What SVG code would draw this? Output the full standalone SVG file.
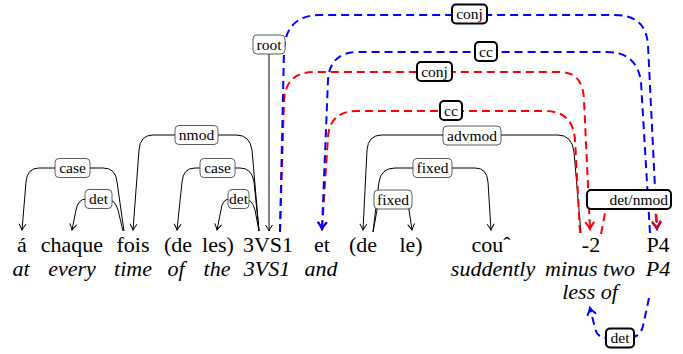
<svg xmlns="http://www.w3.org/2000/svg" width="683" height="354" viewBox="0 0 683 354">
<style>
text{font-family:"Liberation Serif","Times New Roman",serif;fill:#000;text-anchor:middle}
.w{font-size:22px}
.g{font-size:22px;font-style:italic}
.lt{font-size:15.5px}
.k{fill:none;stroke:#000;stroke-width:1}
.b{fill:none;stroke:#0000ff;stroke-width:2;stroke-dasharray:8 5}
.r{fill:none;stroke:#ff0000;stroke-width:2;stroke-dasharray:8 5}
.lb{fill:#fff;stroke:#333;stroke-width:0.8}
.lbd{fill:#fff;stroke:#000;stroke-width:2}
</style>
<defs>
<marker id="ak" markerUnits="userSpaceOnUse" viewBox="-8 -6 10 12" markerWidth="10" markerHeight="12" refX="0" refY="0" orient="auto">
<path d="M-6,-3.5 Q-2,-0.8 0,0 Q-2,0.8 -6,3.5" fill="none" stroke="#000" stroke-width="1"/>
</marker>
<marker id="ab" markerUnits="userSpaceOnUse" viewBox="-9 -7 11 14" markerWidth="11" markerHeight="14" refX="0" refY="0" orient="auto">
<path d="M-7,-4.5 Q-2.5,-1 0,0 Q-2.5,1 -7,4.5" fill="none" stroke="#0000ff" stroke-width="2"/>
</marker>
<marker id="ar" markerUnits="userSpaceOnUse" viewBox="-9 -7 11 14" markerWidth="11" markerHeight="14" refX="0" refY="0" orient="auto">
<path d="M-7,-4.5 Q-2.5,-1 0,0 Q-2.5,1 -7,4.5" fill="none" stroke="#ff0000" stroke-width="2"/>
</marker>
</defs>
<rect width="683" height="354" fill="#fff"/>
<g id="connectors">
<path class="k" marker-end="url(#ak)" d="M124,231 L117,182 Q116,168 103,168 L39,168 Q27,168 26,182 L22,230"/>
<path class="k" marker-end="url(#ak)" d="M123,231 L118,210 Q115,199 106,199 L86,199 Q78,199 76,210 L72,230"/>
<path class="k" marker-end="url(#ak)" d="M259,231 L252,150 Q250,135 236,135 L153,135 Q140,135 139,150 L133,230"/>
<path class="k" marker-end="url(#ak)" d="M259,231 L254,182 Q252,168 240,168 L195,168 Q183,168 182,182 L177,230"/>
<path class="k" marker-end="url(#ak)" d="M259,231 L255,210 Q252,199 245,199 L230,199 Q222,199 221,210 L217,230"/>
<path class="k" marker-end="url(#ak)" d="M269,54 L269,231"/>
<path class="k" marker-end="url(#ak)" d="M581,233 L574,152 Q572,135 558,135 L382,135 Q368,135 367,150 L363,230"/>
<path class="k" marker-end="url(#ak)" d="M373,232 L379,182 Q381,168 395,168 L475,168 Q487,168 488,182 L491,230"/>
<path class="k" marker-end="url(#ak)" d="M373,232 L377,210 Q379,199 388,199 L400,199 Q407,199 409,210 L412,230"/>
<path class="r" marker-end="url(#ar)" d="M280,232 L284,100 Q286,72 314,72 L560,72 Q583,72 584,100 L590,229"/>
<path class="b" marker-end="url(#ab)" d="M280,232 L284,50 Q286,15 320,15 L615,15 Q646,15 648,45 L657,229"/>
<path class="r" marker-end="url(#ar)" d="M580,233 L575,140 Q573,111 545,111 L357,111 Q330,111 328,137 L322,229"/>
<path class="b" marker-end="url(#ab)" d="M650,233 L641,82 Q637,52 607,52 L358,52 Q330,52 328,80 L322,229"/>
<path class="r" marker-end="url(#ar)" d="M601,234 L606,208 Q608,199 616,199 L646,199 Q654,199 655,208 L657,228"/>
<path class="b" marker-end="url(#ab)" d="M649,298 L643,326 Q640,338 628,338 L607,338 Q597,338 595,328 L590,308"/>
<g id="lab-case1"><rect class="lb" x="55" y="158.5" width="35" height="19" rx="4"/><text class="lt" x="72.5" y="173" font-family="Liberation Serif, serif">case</text></g>
<g id="lab-det1"><rect class="lb" x="85" y="189.5" width="27" height="19" rx="4"/><text class="lt" x="98.5" y="204" font-family="Liberation Serif, serif">det</text></g>
<g id="lab-nmod"><rect class="lb" x="175" y="125.5" width="43" height="19" rx="4"/><text class="lt" x="196.5" y="140" font-family="Liberation Serif, serif">nmod</text></g>
<g id="lab-case2"><rect class="lb" x="200" y="158.5" width="35" height="19" rx="4"/><text class="lt" x="217.5" y="173" font-family="Liberation Serif, serif">case</text></g>
<g id="lab-det2"><rect class="lb" x="228" y="189.5" width="21" height="19" rx="4"/><text class="lt" x="238.5" y="204" font-family="Liberation Serif, serif">det</text></g>
<g id="lab-root"><rect class="lb" x="253" y="35" width="32" height="19" rx="4"/><text class="lt" x="269" y="49.5" font-family="Liberation Serif, serif">root</text></g>
<g id="lab-conj1"><rect class="lbd" x="452" y="4.5" width="35" height="19" rx="4"/><text class="lt" x="469.5" y="19" font-family="Liberation Serif, serif">conj</text></g>
<g id="lab-cc1"><rect class="lbd" x="475" y="42" width="22" height="19" rx="4"/><text class="lt" x="486" y="56.5" font-family="Liberation Serif, serif">cc</text></g>
<g id="lab-conj2"><rect class="lbd" x="417" y="62" width="35" height="19" rx="4"/><text class="lt" x="434.5" y="76.5" font-family="Liberation Serif, serif">conj</text></g>
<g id="lab-cc2"><rect class="lbd" x="440" y="101" width="22" height="19" rx="4"/><text class="lt" x="451" y="115.5" font-family="Liberation Serif, serif">cc</text></g>
<g id="lab-advmod"><rect class="lb" x="443" y="126" width="58" height="19" rx="4"/><text class="lt" x="472" y="140.5" font-family="Liberation Serif, serif">advmod</text></g>
<g id="lab-fixed1"><rect class="lb" x="413" y="158.5" width="39" height="19" rx="4"/><text class="lt" x="432.5" y="173" font-family="Liberation Serif, serif">fixed</text></g>
<g id="lab-fixed2"><rect class="lb" x="374" y="190" width="38" height="19" rx="4"/><text class="lt" x="393" y="204.5" font-family="Liberation Serif, serif">fixed</text></g>
<g id="lab-detnmod"><rect class="lbd" x="587" y="190" width="84" height="19" rx="4"/><text class="lt" x="668" y="204.5" font-family="Liberation Serif, serif" style="text-anchor:end">det/nmod</text></g>
<g id="lab-det3"><rect class="lbd" x="606" y="328.5" width="28" height="19" rx="4"/><text class="lt" x="620" y="343" font-family="Liberation Serif, serif">det</text></g>
</g>
<g id="n-a"><text class="w" x="22" y="252">á</text><text class="g" x="21" y="276">at</text></g>
<g id="n-chaque"><text class="w" x="72" y="252">chaque</text><text class="g" x="72" y="276">every</text></g>
<g id="n-fois"><text class="w" x="133" y="252">fois</text><text class="g" x="133" y="276">time</text></g>
<g id="n-de1"><text class="w" x="178" y="252">(de</text><text class="g" x="176" y="276">of</text></g>
<g id="n-les"><text class="w" x="218" y="252">les)</text><text class="g" x="217" y="276">the</text></g>
<g id="n-3vs1"><text class="w" x="268" y="252">3VS1</text><text class="g" x="267" y="276">3VS1</text></g>
<g id="n-et"><text class="w" x="322" y="252">et</text><text class="g" x="321" y="276">and</text></g>
<g id="n-de2"><text class="w" x="363" y="252">(de</text></g>
<g id="n-le"><text class="w" x="411" y="252">le)</text></g>
<g id="n-cou"><text class="w" x="491" y="252">couˆ</text><text class="g" x="493" y="276">suddently</text></g>
<g id="n-m2"><text class="w" x="591" y="252">-2</text><text class="g" x="590" y="276">minus two</text><text class="g" x="590" y="299">less of</text></g>
<g id="n-p4"><text class="w" x="658" y="252">P4</text><text class="g" x="658" y="276">P4</text></g>
</svg>
